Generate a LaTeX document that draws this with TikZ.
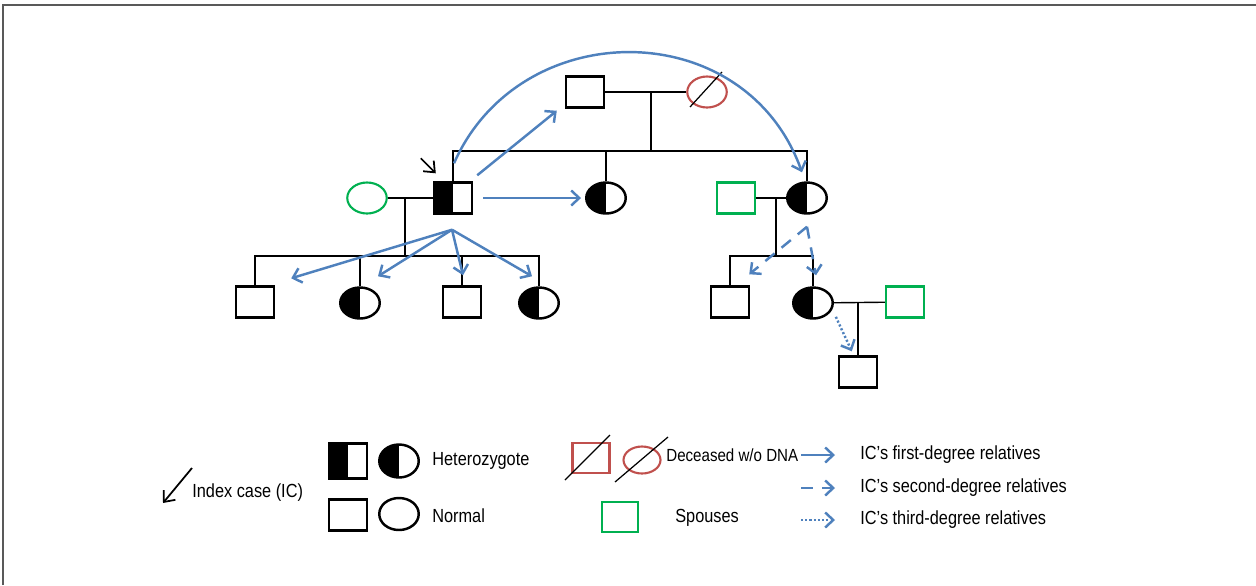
\documentclass[tikz,border=0pt]{standalone}
\usepackage{fontspec}
\setmainfont{Liberation Sans}[FakeStretch=0.86]
\usepackage{tikz}
\usetikzlibrary{shapes.geometric, arrows.meta, calc}
\definecolor{relblue}{RGB}{79,129,189}
\definecolor{deadred}{RGB}{192,80,77}
\definecolor{spgreen}{RGB}{0,176,80}
\tikzset{
  font=\fontsize{10.8}{13}\selectfont,
  male/.style             = {rectangle, draw, line width=1.4pt, inner sep=0pt,
                             minimum width=7.6mm, minimum height=6.2mm},
  female/.style           = {ellipse, draw, line width=1.4pt, inner sep=0pt,
                             minimum width=7.9mm, minimum height=6.2mm},
  het/.style              = {path picture={\fill[black] (path picture bounding box.south west)
                             rectangle (path picture bounding box.north);}},
  dead/.style             = {draw=deadred, line width=1.2pt},
  spouse/.style           = {draw=spgreen, line width=1.2pt},
  link/.style             = {line width=0.8pt},
  slash/.style            = {line width=0.7pt},
  legtext/.style          = {anchor=west, inner sep=0pt},
  pointer/.style          = {-{Straight Barb[length=1.8mm,width=3mm]}, line width=1pt},
  first/.style            = {-{Straight Barb[length=1.6mm,width=3mm]}, relblue, line width=1.4pt},
  second/.style           = {first, dash pattern=on 2.4mm off 1.8mm},
  third/.style            = {first, dash pattern=on 1.2pt off 1.2pt}
}
\begin{document}
\begin{tikzpicture}[x=0.2mm, y=-0.2mm]
  \useasboundingbox (0,0) rectangle (1256,585);
  \draw[gray!70!black, line width=1pt] (3,585) -- (3,5) -- (1256,5);

  % generation I
  \node[male]          (gf)   at (585,92)  {};
  \node[female,dead]   (gm)   at (707,92)  {};
  \draw[slash] ($(gm)+(-17,15)$) -- ($(gm)+(15,-20)$);
  % generation II
  \node[female,spouse] (icsp) at (367,198) {};
  \node[male,het]      (ic)   at (453,198) {};
  \node[female,het]    (sis1) at (606,198) {};
  \node[male,spouse]   (sp2)  at (736,198) {};
  \node[female,het]    (sis2) at (807,198) {};
  % generation III
  \node[male]          (c1)   at (255,302) {};
  \node[female,het]    (c2)   at (360,303) {};
  \node[male]          (c3)   at (462,302) {};
  \node[female,het]    (c4)   at (539,303) {};
  \node[male]          (n1)   at (730,302) {};
  \node[female,het]    (n2)   at (813,303) {};
  \node[male,spouse]   (sp3)  at (905,302) {};
  % generation IV
  \node[male]          (gn)   at (858,372) {};

  \coordinate (m1) at (651,92);  \coordinate (s1) at (651,151);
  \coordinate (m2) at (405,198); \coordinate (s2) at (405,256);
  \coordinate (m3) at (776,198); \coordinate (s3) at (776,256);
  \coordinate (m4) at (858,302);

  \draw[link] (gf) -- (gm);
  \draw[link] (m1) -- (s1);
  \draw[link] (ic.north) |- (s1) -| (sis2.north);
  \draw[link] (sis1.north) -- (sis1.north |- s1);
  \draw[link] (icsp) -- (ic);
  \draw[link] (m2) -- (s2);
  \draw[link] (c1.north) |- (s2) -| (c4.north);
  \draw[link] (c2.north) -- (c2.north |- s2);
  \draw[link] (c3.north) -- (c3.north |- s2);
  \draw[link] (sp2) -- (sis2);
  \draw[link] (m3) -- (s3);
  \draw[link] (n1.north) |- (s3) -| (n2.north);
  \draw[link] (n2) -- (sp3);
  \draw[link] (m4) -- (gn.north);

  % index case
  \draw[pointer] ($(ic.north west)+(-12,-23)$) -- ($(ic.north west)+(3,-8)$);

  % relatives
  \draw[first] ($(ic.north)+(1,-18)$) .. controls (520,14) and (745,14) .. ($(sis2.north)+(-5,-9)$);
  \draw[first] ($(ic.north east)+(4,-6)$) -- ($(gf.south west)+(-8,2)$);
  \draw[first] ($(ic.east)+(10,0)$) -- ($(sis1.west)+(-4,0)$);
  \coordinate (fan) at ($(ic.south)+(-1,15)$);
  \draw[first] (fan) -- ($(c1.north east)+(16,-7)$);
  \draw[first] (fan) -- ($(c2.north)+(18,-10)$);
  \draw[first] (fan) -- ($(c3.north)+(1,-10)$);
  \draw[first] (fan) -- ($(c4.north)+(-7,-10)$);
  \coordinate (fan2) at ($(sis2.south)+(0,12)$);
  \draw[second] (fan2) -- ($(n1.north east)+(-1,-11)$);
  \draw[second] (fan2) -- ($(n2.north)+(3,-11)$);
  \draw[third] ($(n2.south east)+(8,2)$) -- ($(gn.north west)+(14,-4)$);

  % legend
  \node[legtext] (lidx) at (192,493) {Index case (IC)};
  \draw[pointer] ($(lidx.west)+(0,-25)$) -- ($(lidx.west)+(-29,10)$);
  \node[male,het,minimum height=7mm] (lhs) at (348,461) {};
  \node[female,het,minimum height=6.6mm] (lhe) at (399,461) {};
  \node[legtext] (lhet) at (432,461) {Heterozygote};
  \node[male]   (lns) at (348,515) {};
  \node[female,minimum height=6.4mm] (lne) at (399,514) {};
  \node[legtext] (lnorm) at (432,516) {Normal};
  \node[male,dead,minimum width=7.4mm,minimum height=6mm] (lds) at (591,458) {};
  \node[female,dead,minimum width=7.4mm,minimum height=5.4mm] (lde) at (642,460) {};
  \draw[slash] ($(lds)+(-26,22)$) -- ($(lds)+(19,-23)$);
  \draw[slash] ($(lde)+(-27,22)$) -- ($(lde)+(26,-23)$);
  \node[legtext, font=\fontsize{10}{12}\selectfont] (ldead) at (666,455) {Deceased w/o DNA};
  \node[male,spouse,minimum width=7.2mm,minimum height=6mm] (lsp) at (620,517) {};
  \node[legtext] (lspl) at (675,518) {Spouses};
  \node[legtext] (lfirst)  at (860,455) {IC’s first-degree relatives};
  \node[legtext] (lsecond) at (860,488) {IC’s second-degree relatives};
  \node[legtext] (lthird)  at (860,520) {IC’s third-degree relatives};
  \draw[first]  ($(lfirst.west)+(-59,0)$)  -- ($(lfirst.west)+(-25,0)$);
  \draw[second] ($(lsecond.west)+(-59,0)$) -- ($(lsecond.west)+(-25,0)$);
  \draw[third]  ($(lthird.west)+(-59,0)$)  -- ($(lthird.west)+(-25,0)$);
\end{tikzpicture}
\end{document}
